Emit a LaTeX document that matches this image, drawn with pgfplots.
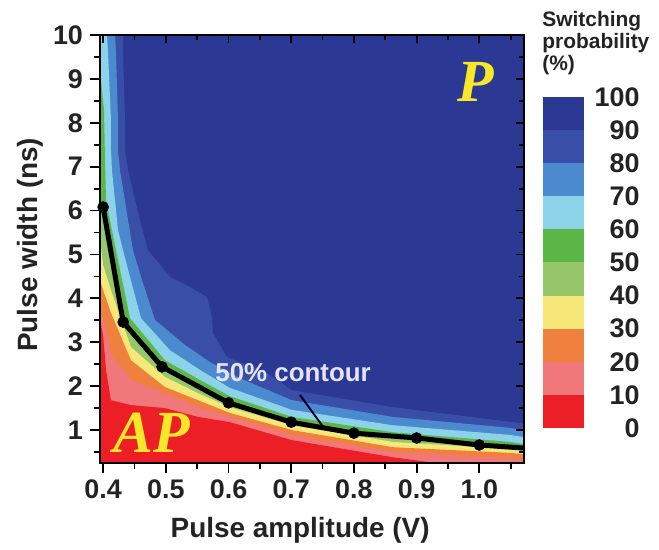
\documentclass[border=0pt]{standalone}
\usepackage{fontspec}
\setmainfont{Liberation Sans}
\newfontfamily\timesfont{Liberation Serif}
\usepackage{pgfplots}
\pgfplotsset{compat=1.18}

\definecolor{c100}{RGB}{44,57,148}
\definecolor{c90}{RGB}{57,78,166}
\definecolor{c80}{RGB}{76,138,208}
\definecolor{c70}{RGB}{140,210,232}
\definecolor{c60}{RGB}{92,182,70}
\definecolor{c50}{RGB}{150,199,106}
\definecolor{c40}{RGB}{246,232,120}
\definecolor{c30}{RGB}{240,128,62}
\definecolor{c20}{RGB}{240,120,122}
\definecolor{c10}{RGB}{236,30,38}
\definecolor{txt}{RGB}{35,35,35}
\definecolor{pyellow}{RGB}{248,232,40}
\definecolor{lav}{RGB}{228,228,246}

\begin{document}
\begin{tikzpicture}
\useasboundingbox (-50bp,-43.5bp) rectangle (279.5bp,231.5bp);

% contour map
\begin{axis}[
    at={(0,0)}, anchor=south west,
    scale only axis, width=212bp, height=214bp,
    xmin=0.395, xmax=1.0713, ymin=0.25, ymax=10,
    axis background/.style={fill=c100},
    axis line style={line width=1.1bp, black},
    tick pos=left, tick align=outside,
    major tick length=5bp, minor tick length=3bp,
    every tick/.style={black, line width=0.9bp},
    xtick={0.4,0.5,0.6,0.7,0.8,0.9,1.0},
    xticklabels={0.4,0.5,0.6,0.7,0.8,0.9,1.0},
    minor xtick={0.45,0.55,0.65,0.75,0.85,0.95,1.05},
    ytick={1,2,3,4,5,6,7,8,9,10},
    minor ytick={0.5,1.5,...,9.5},
    /pgf/number format/assume math mode=true,
    tick label style={font=\bfseries\fontsize{13.5}{13.5}\selectfont, text=txt},
    xlabel={Pulse amplitude (V)},
    ylabel={Pulse width (ns)},
    every axis x label/.style={at={(axis description cs:0.472,-0.157)}, anchor=center,
        font=\bfseries\fontsize{14}{14}\selectfont, text=txt},
    every axis y label/.style={at={(axis description cs:-0.165,0.51)}, anchor=center, rotate=90,
        font=\bfseries\fontsize{14}{14}\selectfont, text=txt},
]
% 80-90
\addplot[fill=c90, draw=none] coordinates {
  (0.395,0.25) (0.395,10) (0.4317,10) (0.4317,9.59) (0.4349,8.06) (0.4349,7.38)
  (0.4397,6.92) (0.4588,5.78) (0.4716,5.10) (0.5066,4.49) (0.5385,4.26) (0.5657,4.03)
  (0.5736,3.57) (0.5752,3.21) (0.5976,2.66) (0.6582,2.32) (0.7012,1.91) (0.8623,1.52)
  (1.0649,1.16) (1.0713,1.14) (1.0713,0.25)
} -- cycle;
% 70-80
\addplot[fill=c80, draw=none] coordinates {
  (0.395,0.25) (0.395,10) (0.4189,10) (0.4205,9.59) (0.4237,8.06) (0.4237,7.38)
  (0.4269,6.92) (0.4476,5.10) (0.4604,4.49) (0.4827,3.51) (0.5306,2.94) (0.5704,2.55)
  (0.6183,2.18) (0.7012,1.68) (0.8623,1.30) (1.0489,1.05) (1.0713,1.00) (1.0713,0.25)
} -- cycle;
% 60-70
\addplot[fill=c70, draw=none] coordinates {
  (0.395,0.25) (0.395,10) (0.4062,10) (0.4078,9.59) (0.4125,8.06) (0.4125,7.38)
  (0.4141,6.92) (0.4237,5.56) (0.4317,5.10) (0.4428,4.49) (0.4604,3.55) (0.5066,2.82)
  (0.5545,2.37) (0.6023,1.96) (0.7012,1.46) (0.8623,1.11) (1.0489,0.89) (1.0713,0.84)
  (1.0713,0.25)
} -- cycle;
% 50-60
\addplot[fill=c60, draw=none] coordinates {
  (0.395,0.25) (0.395,9.20) (0.4014,8.29) (0.4030,7.15) (0.4046,6.24) (0.4205,5.10)
  (0.4428,3.55) (0.4987,2.59) (0.5545,2.14) (0.6023,1.77) (0.7012,1.30) (0.8623,0.95)
  (1.0489,0.73) (1.0713,0.68) (1.0713,0.25)
} -- cycle;
% 40-50
\addplot[fill=c50, draw=none] coordinates {
  (0.395,0.25) (0.395,6.2) (0.400,6.08) (0.4317,3.46) (0.4939,2.44) (0.6007,1.62)
  (0.7012,1.18) (0.8017,0.93) (0.9006,0.82) (1.0011,0.66) (1.0713,0.59) (1.0713,0.25)
} -- cycle;
% 30-40
\addplot[fill=c40, draw=none] coordinates {
  (0.395,0.25) (0.395,5.33) (0.400,4.76) (0.4125,4.19) (0.4444,2.89) (0.4987,2.21)
  (0.5513,1.84) (0.6023,1.52) (0.7012,1.11) (0.8623,0.73) (1.0489,0.57) (1.0713,0.52)
  (1.0713,0.25)
} -- cycle;
% 20-30
\addplot[fill=c30, draw=none] coordinates {
  (0.395,0.25) (0.395,4.42) (0.400,4.19) (0.4125,3.67) (0.4444,2.59) (0.4987,1.98)
  (0.5513,1.68) (0.6023,1.39) (0.7012,1.00) (0.8623,0.61) (1.0489,0.48) (1.0713,0.45)
  (1.0713,0.25)
} -- cycle;
% 10-20
\addplot[fill=c20, draw=none] coordinates {
  (0.395,0.25) (0.395,3.73) (0.400,3.51) (0.4125,2.75) (0.4444,2.14) (0.4987,1.84)
  (0.5513,1.52) (0.6023,1.30) (0.7012,0.89) (0.8623,0.50) (1.0489,0.36) (1.0713,0.34)
  (1.0713,0.25)
} -- cycle;
% 0-10
\addplot[fill=c10, draw=none] coordinates {
  (0.395,0.25) (0.395,3.51) (0.400,3.16) (0.4046,2.37) (0.4125,1.68) (0.4444,1.57)
  (0.4987,1.50) (0.5513,1.30) (0.6023,1.18) (0.7012,0.77) (0.8623,0.38) (0.93,0.25)
} -- cycle;

% 50% contour
\addplot[black, line width=2.5bp] coordinates {
  (0.400,6.08) (0.432,3.46) (0.494,2.44) (0.600,1.62) (0.700,1.18) (0.800,0.93)
  (0.900,0.82) (1.000,0.66) (1.0713,0.59)
};
\addplot[only marks, mark=*, mark size=2.7bp, black] coordinates {
  (0.400,6.08) (0.432,3.46) (0.494,2.44) (0.600,1.62) (0.700,1.18) (0.800,0.93)
  (0.900,0.82) (1.000,0.66)
};
\addplot[black!85!blue, line width=1bp] coordinates {(0.714,1.80) (0.749,1.11)};

\node[text=lav, font=\bfseries\fontsize{13}{13}\selectfont] at (axis cs:0.703,2.32) {50\% contour};
\node[text=pyellow, font=\timesfont\bfseries\itshape\fontsize{30}{30}\selectfont] at (axis cs:0.9947,8.93) {P};
\node[text=pyellow, font=\timesfont\bfseries\itshape\fontsize{30}{30}\selectfont] at (axis cs:0.478,0.93) {AP};
\end{axis}

% inward ticks on top and right
\begin{axis}[
    at={(0,0)}, anchor=south west,
    scale only axis, width=212bp, height=214bp,
    xmin=0.395, xmax=1.0713, ymin=0.25, ymax=10,
    axis line style={line width=1.1bp, black},
    tick pos=right, tick align=inside,
    major tick length=4bp, minor tick length=2.5bp,
    every tick/.style={black, line width=0.9bp},
    xtick={0.4,0.5,0.6,0.7,0.8,0.9,1.0},
    minor xtick={0.45,0.55,0.65,0.75,0.85,0.95,1.05},
    ytick={1,2,3,4,5,6,7,8,9,10},
    minor ytick={0.5,1.5,...,9.5},
    xticklabels={}, yticklabels={},
]
\end{axis}

% colour scale
\begin{axis}[
    at={(221.5bp,17.5bp)}, anchor=south west,
    scale only axis, width=20.5bp, height=165.5bp,
    xmin=0, xmax=1, ymin=0, ymax=100,
    axis line style={draw=none},
    xtick=\empty,
    ytick={0,10,...,100},
    ytick pos=right, yticklabel pos=right,
    major tick length=0pt,
    tick style={draw=none},
    /pgf/number format/assume math mode=true,
    yticklabel style={font=\bfseries\fontsize{13.5}{13.5}\selectfont, text=txt, anchor=east, inner sep=0pt, xshift=28bp},
]
\addplot[fill=c10, draw=none] coordinates {(0,0) (1,0) (1,10) (0,10)} -- cycle;
\addplot[fill=c20, draw=none] coordinates {(0,10) (1,10) (1,20) (0,20)} -- cycle;
\addplot[fill=c30, draw=none] coordinates {(0,20) (1,20) (1,30) (0,30)} -- cycle;
\addplot[fill=c40, draw=none] coordinates {(0,30) (1,30) (1,40) (0,40)} -- cycle;
\addplot[fill=c50, draw=none] coordinates {(0,40) (1,40) (1,50) (0,50)} -- cycle;
\addplot[fill=c60, draw=none] coordinates {(0,50) (1,50) (1,60) (0,60)} -- cycle;
\addplot[fill=c70, draw=none] coordinates {(0,60) (1,60) (1,70) (0,70)} -- cycle;
\addplot[fill=c80, draw=none] coordinates {(0,70) (1,70) (1,80) (0,80)} -- cycle;
\addplot[fill=c90, draw=none] coordinates {(0,80) (1,80) (1,90) (0,90)} -- cycle;
\addplot[fill=c100, draw=none] coordinates {(0,90) (1,90) (1,100) (0,100)} -- cycle;
\end{axis}

\node[anchor=north west, align=left, inner sep=0pt, text=txt,
      font=\bfseries\fontsize{10.5}{11}\selectfont] at (221bp,226bp)
      {Switching\\probability\\(\%)};
\end{tikzpicture}
\end{document}
